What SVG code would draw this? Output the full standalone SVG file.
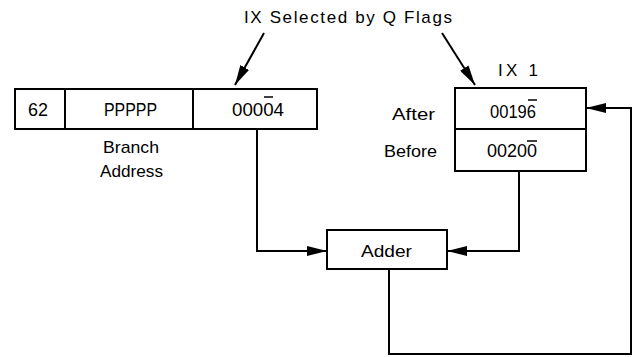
<svg xmlns="http://www.w3.org/2000/svg" width="633" height="357" viewBox="0 0 633 357">
<style>
.box{fill:#fff;stroke:#000;stroke-width:2}
.ln{fill:none;stroke:#000;stroke-width:2}
.ob{stroke:#000;stroke-width:1.5}
.t{font-family:"Liberation Sans",Arial,sans-serif;font-size:17px;fill:#000}
.d{font-size:18px}
</style>
<defs>
<marker id="ah" markerUnits="userSpaceOnUse" markerWidth="20" markerHeight="10" refX="20" refY="5" orient="auto">
<path d="M0,0 L20,5 L0,10 Z" fill="#000"/>
</marker>
</defs>
<rect width="633" height="357" fill="#fff"/>
<g id="title">
<text class="t" x="244" y="23" font-size="16" textLength="208" lengthAdjust="spacing">IX Selected by Q Flags</text>
</g>
<g id="instruction">
<rect class="box" x="15" y="89" width="302" height="40"/>
<line class="ln" x1="65" y1="89" x2="65" y2="129"/>
<line class="ln" x1="193" y1="89" x2="193" y2="129"/>
<text class="t d" x="28" y="116" textLength="20" lengthAdjust="spacingAndGlyphs">62</text>
<text class="t d" x="104" y="116" textLength="53" lengthAdjust="spacingAndGlyphs">PPPPP</text>
<text class="t d" x="232" y="116" textLength="52" lengthAdjust="spacingAndGlyphs">00004</text>
<line class="ob" x1="264" y1="97" x2="273" y2="97"/>
<text class="t" x="103" y="153" textLength="56" lengthAdjust="spacingAndGlyphs">Branch</text>
<text class="t" x="100" y="177" textLength="63" lengthAdjust="spacingAndGlyphs">Address</text>
</g>
<g id="ix1">
<text class="t" x="498" y="76" textLength="40" lengthAdjust="spacing">IX 1</text>
<rect class="box" x="455" y="88" width="131" height="83"/>
<line class="ln" x1="455" y1="129" x2="586" y2="129"/>
<text class="t d" x="490" y="118" textLength="46" lengthAdjust="spacingAndGlyphs">00196</text>
<line class="ob" x1="528" y1="100" x2="537" y2="100"/>
<text class="t d" x="487" y="157" textLength="50" lengthAdjust="spacingAndGlyphs">00200</text>
<line class="ob" x1="527" y1="141" x2="537" y2="141"/>
<text class="t" x="392" y="120" font-size="16" textLength="43" lengthAdjust="spacingAndGlyphs">After</text>
<text class="t" x="384" y="157" font-size="16" textLength="53" lengthAdjust="spacingAndGlyphs">Before</text>
</g>
<g id="adder">
<rect class="box" x="327" y="230" width="120" height="39"/>
<text class="t" x="361" y="257" textLength="51" lengthAdjust="spacingAndGlyphs">Adder</text>
</g>
<g id="connectors">
<line class="ln" x1="264" y1="33" x2="235" y2="85" marker-end="url(#ah)"/>
<line class="ln" x1="442" y1="33" x2="475" y2="85" marker-end="url(#ah)"/>
<polyline class="ln" points="257,129 257,251 327,251" marker-end="url(#ah)"/>
<polyline class="ln" points="519,171 519,251 447,251" marker-end="url(#ah)"/>
<polyline class="ln" points="389,269 389,354 631,354 631,108 586,108" marker-end="url(#ah)"/>
</g>
</svg>
